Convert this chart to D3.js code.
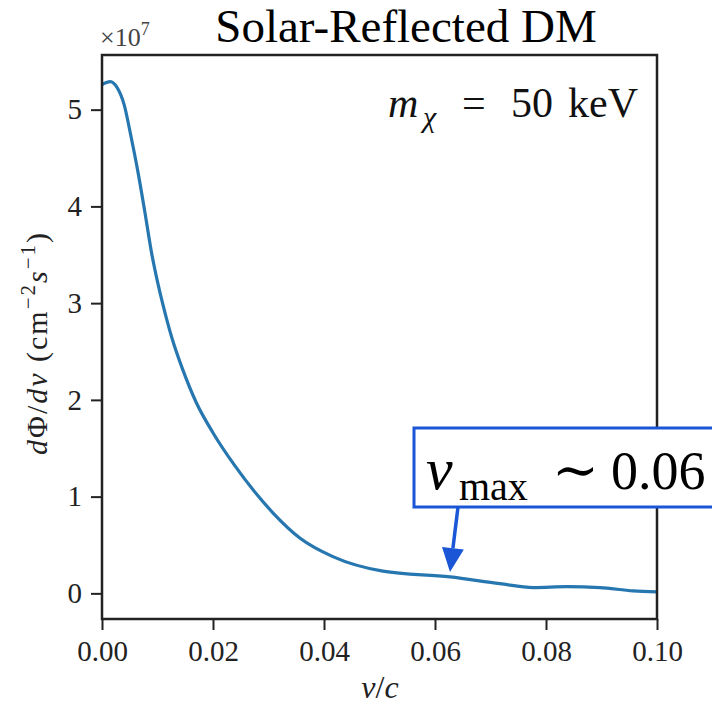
<!DOCTYPE html>
<html>
<head>
<meta charset="utf-8">
<script src="https://cdn.jsdelivr.net/npm/d3@7"></script>
<style>
  body { margin: 0; background: #fff; }
  svg { display: block; }
</style>
</head>
<body>
<svg id="chart" width="712" height="712"></svg>
<script>
// curve, flux in units of 1e7
let velocity = [0, 0.0015, 0.0027, 0.004, 0.0052, 0.0064, 0.0077, 0.0089, 0.0102, 0.0114,
    0.0126, 0.0145, 0.017, 0.0201, 0.0238, 0.0275, 0.031, 0.0357, 0.0416, 0.0506,
    0.0627, 0.0717, 0.0777, 0.0838, 0.0897, 0.0957, 0.1];
let flux = [5.26, 5.29, 5.23, 5.05, 4.73, 4.38, 3.95, 3.53, 3.17, 2.89,
    2.64, 2.32, 1.97, 1.65, 1.33, 1.05, 0.82, 0.57, 0.38, 0.23,
    0.17, 0.10, 0.06, 0.07, 0.06, 0.025, 0.015];
let xTicks = [0, 0.02, 0.04, 0.06, 0.08, 0.10];
let yTicks = [0, 1, 2, 3, 4, 5];
let vmax = 0.0627;

let lineColor = "#2676b0";
let noteColor = "#1a56d6";
let frameColor = "#222";
let serif = "Liberation Serif, DejaVu Serif, serif";

function drawChart(svgId) {
    let svg = d3.select(svgId).style("font-family", serif);
    let left = 102, right = 657, top = 55, bottom = 619;

    let x = d3.scaleLinear().domain([0, 0.1]).range([left, right]);
    let y = d3.scaleLinear().domain([-0.265, 5.565]).range([bottom, top]);

    // curve
    let points = velocity.map((v, i) => [v, flux[i]]);
    svg.append("path")
        .datum(points)
        .attr("d", d3.line().x(d => x(d[0])).y(d => y(d[1])).curve(d3.curveMonotoneX))
        .style("fill", "none")
        .style("stroke", lineColor)
        .style("stroke-width", 3.2)
        .style("stroke-linejoin", "round");

    // axes
    let xAxis = svg.append("g")
        .attr("transform", "translate(0," + bottom + ")")
        .call(d3.axisBottom(x).tickValues(xTicks).tickFormat(d3.format(".2f")).tickSize(11).tickPadding(10));
    let yAxis = svg.append("g")
        .attr("transform", "translate(" + left + ",0)")
        .call(d3.axisLeft(y).tickValues(yTicks).tickFormat(d3.format("d")).tickSize(11).tickPadding(9));
    for (let ax of [xAxis, yAxis]) {
        ax.attr("font-family", serif);
        ax.select(".domain").remove();
        ax.selectAll(".tick line").style("stroke", frameColor).style("stroke-width", 2);
        ax.selectAll(".tick text")
            .style("font-family", serif)
            .style("font-size", "29px")
            .style("fill", "#222");
    }

    // frame
    svg.append("rect")
        .attr("x", left).attr("y", top)
        .attr("width", right - left).attr("height", bottom - top)
        .style("fill", "none")
        .style("stroke", frameColor)
        .style("stroke-width", 2.5);

    // offset text
    let off = svg.append("text")
        .attr("x", 100).attr("y", 46)
        .style("font-size", "26px").style("fill", "#444");
    off.append("tspan").text("×10");
    off.append("tspan").attr("dy", -11).style("font-size", "18px").text("7");

    // title
    svg.append("text")
        .attr("x", 406).attr("y", 42)
        .attr("text-anchor", "middle")
        .style("font-size", "47px").style("fill", "#000")
        .text("Solar-Reflected DM");

    // mass label
    let m = svg.append("text")
        .attr("y", 117)
        .style("font-size", "42px").style("fill", "#111");
    m.append("tspan").attr("x", 388).style("font-style", "italic").text("m");
    m.append("tspan").attr("x", 423).attr("dy", 10).style("font-size", "30px").style("font-style", "italic").text("χ");
    m.append("tspan").attr("x", 462).attr("dy", -10).text("=");
    m.append("tspan").attr("x", 511).text("50");
    m.append("tspan").attr("x", 568).text("keV");

    // axis labels
    let xl = svg.append("text")
        .attr("x", 380).attr("y", 698)
        .attr("text-anchor", "middle")
        .style("font-size", "32px").style("fill", "#222");
    xl.append("tspan").style("font-style", "italic").text("v");
    xl.append("tspan").text("/");
    xl.append("tspan").style("font-style", "italic").text("c");

    let yl = svg.append("text")
        .attr("transform", "translate(47,343) rotate(-90)")
        .attr("text-anchor", "middle")
        .style("font-size", "30px").style("letter-spacing", "2px").style("fill", "#222");
    yl.append("tspan").style("font-style", "italic").text("d");
    yl.append("tspan").text("Φ/");
    yl.append("tspan").style("font-style", "italic").text("dv");
    yl.append("tspan").text("  (cm");
    yl.append("tspan").attr("dy", -12).style("font-size", "21px").text("−2");
    yl.append("tspan").attr("dy", 12).style("font-style", "italic").text("s");
    yl.append("tspan").attr("dy", -12).style("font-size", "21px").text("−1");
    yl.append("tspan").attr("dy", 12).text(")");

    // v_max annotation
    let boxX = 414, boxY = 428, boxH = 79;
    svg.append("rect")
        .attr("x", boxX).attr("y", boxY)
        .attr("width", 340).attr("height", boxH)
        .style("fill", "#fff")
        .style("stroke", noteColor)
        .style("stroke-width", 3);
    let note = svg.append("text")
        .attr("y", 489)
        .style("font-size", "56px").style("fill", "#000");
    note.append("tspan").attr("x", 426).style("font-size", "60px").style("font-style", "italic").text("v");
    note.append("tspan").attr("x", 459).attr("dy", 11).style("font-size", "40px").text("max");
    note.append("tspan").attr("x", 552).attr("dy", -11).text("∼");
    note.append("tspan").attr("x", 611).style("font-size", "54px").text("0.06");

    let tipX = x(vmax), tipY = y(0.22);
    let startX = 458, startY = boxY + boxH;
    let ang = Math.atan2(tipY - startY, tipX - startX);
    let headLen = 24, headW = 11;
    let baseX = tipX - headLen * Math.cos(ang), baseY = tipY - headLen * Math.sin(ang);
    svg.append("line")
        .attr("x1", startX).attr("y1", startY)
        .attr("x2", baseX).attr("y2", baseY)
        .style("stroke", noteColor)
        .style("stroke-width", 3.5);
    let px = -Math.sin(ang), py = Math.cos(ang);
    svg.append("path")
        .attr("d", "M" + tipX + "," + tipY +
            "L" + (baseX + px * headW) + "," + (baseY + py * headW) +
            "L" + (baseX - px * headW) + "," + (baseY - py * headW) + "Z")
        .style("fill", noteColor);
}

drawChart("#chart");
</script>
</body>
</html>
